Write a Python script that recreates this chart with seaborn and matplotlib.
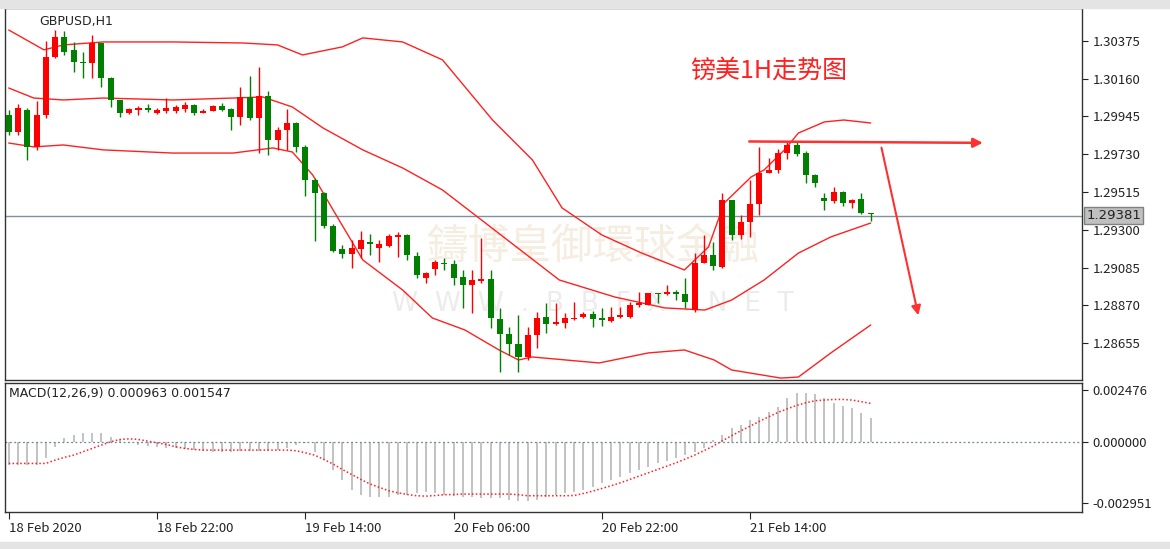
import numpy as np
import pandas as pd
import seaborn as sns
import matplotlib
matplotlib.use("Agg")
import matplotlib.pyplot as plt

###### data (GBPUSD H1, 94 bars from 18 Feb 06:00)

opens = [1.29954, 1.29857, 1.29982, 1.29772, 1.29954, 1.30284, 1.30397, 1.30324, 1.30255, 1.30250,
         1.30363, 1.30164, 1.30039, 1.29965, 1.29982, 1.29994, 1.29965, 1.29976, 1.29976, 1.29988,
         1.30011, 1.29965, 1.29976, 1.30005, 1.29988, 1.29942, 1.30056, 1.29937, 1.30062, 1.29812,
         1.29868, 1.29908, 1.29772, 1.29584, 1.29510, 1.29322, 1.29191, 1.29163, 1.29191, 1.29231,
         1.29197, 1.29208, 1.29260, 1.29271, 1.29151, 1.29026, 1.29077, 1.29113, 1.29106, 1.29032,
         1.28987, 1.29009, 1.29021, 1.28793, 1.28708, 1.28651, 1.28577, 1.28702, 1.28804, 1.28764,
         1.28770, 1.28793, 1.28804, 1.28821, 1.28799, 1.28782, 1.28804, 1.28804, 1.28873, 1.28873,
         1.28941, 1.28935, 1.28947, 1.28935, 1.28844, 1.29111, 1.29157, 1.29089, 1.29470, 1.29271,
         1.29345, 1.29447, 1.29624, 1.29641, 1.29737, 1.29783, 1.29737, 1.29612, 1.29482, 1.29464,
         1.29516, 1.29453, 1.29476, 1.29396]
closes = [1.29857, 1.29994, 1.29772, 1.29954, 1.30284, 1.30397, 1.30312, 1.30255, 1.30250, 1.30363,
          1.30164, 1.30039, 1.29965, 1.29988, 1.29994, 1.29982, 1.29982, 1.29994, 1.29999, 1.30011,
          1.29965, 1.29976, 1.30005, 1.29982, 1.29942, 1.30056, 1.29937, 1.30062, 1.29812, 1.29868,
          1.29908, 1.29772, 1.29584, 1.29510, 1.29322, 1.29180, 1.29163, 1.29197, 1.29242, 1.29220,
          1.29220, 1.29265, 1.29271, 1.29157, 1.29043, 1.29055, 1.29117, 1.29106, 1.29026, 1.28987,
          1.29015, 1.29021, 1.28799, 1.28708, 1.28651, 1.28577, 1.28702, 1.28799, 1.28764, 1.28776,
          1.28799, 1.28799, 1.28821, 1.28793, 1.28787, 1.28804, 1.28816, 1.28873, 1.28884, 1.28941,
          1.28935, 1.28947, 1.28935, 1.28890, 1.29111, 1.29157, 1.29095, 1.29470, 1.29271, 1.29345,
          1.29447, 1.29624, 1.29641, 1.29737, 1.29783, 1.29732, 1.29612, 1.29567, 1.29464, 1.29516,
          1.29453, 1.29470, 1.29396, 1.29390]
highs = [1.29982, 1.30016, 1.29994, 1.30033, 1.30375, 1.30437, 1.30432, 1.30369, 1.30312, 1.30409,
         1.30363, 1.30170, 1.30039, 1.29994, 1.30005, 1.30016, 1.29994, 1.30050, 1.30011, 1.30028,
         1.30016, 1.29988, 1.30011, 1.30022, 1.29994, 1.30113, 1.30176, 1.30227, 1.30090, 1.29885,
         1.29988, 1.29914, 1.29783, 1.29595, 1.29516, 1.29333, 1.29214, 1.29242, 1.29294, 1.29277,
         1.29242, 1.29277, 1.29288, 1.29277, 1.29174, 1.29061, 1.29129, 1.29140, 1.29129, 1.29072,
         1.29072, 1.29254, 1.29072, 1.28856, 1.28747, 1.28816, 1.28747, 1.28833, 1.28884, 1.28884,
         1.28827, 1.28890, 1.28833, 1.28838, 1.28856, 1.28861, 1.28861, 1.28890, 1.28947, 1.28941,
         1.28941, 1.28987, 1.28958, 1.29026, 1.29168, 1.29271, 1.29231, 1.29510, 1.29470, 1.29385,
         1.29584, 1.29772, 1.29709, 1.29760, 1.29806, 1.29806, 1.29749, 1.29618, 1.29510, 1.29544,
         1.29521, 1.29476, 1.29510, 1.29396]
lows = [1.29840, 1.29840, 1.29698, 1.29755, 1.29937, 1.30278, 1.30295, 1.30198, 1.30164, 1.30164,
        1.30113, 1.29999, 1.29942, 1.29959, 1.29954, 1.29971, 1.29959, 1.29965, 1.29965, 1.29971,
        1.29954, 1.29965, 1.29976, 1.29976, 1.29868, 1.29897, 1.29925, 1.29737, 1.29726, 1.29755,
        1.29755, 1.29743, 1.29493, 1.29237, 1.29311, 1.29174, 1.29140, 1.29083, 1.29140, 1.29157,
        1.29117, 1.29203, 1.29146, 1.29129, 1.29026, 1.28998, 1.29043, 1.29072, 1.28987, 1.28856,
        1.28827, 1.28998, 1.28742, 1.28491, 1.28588, 1.28491, 1.28560, 1.28628, 1.28713, 1.28759,
        1.28742, 1.28787, 1.28799, 1.28747, 1.28753, 1.28776, 1.28799, 1.28799, 1.28861, 1.28873,
        1.28884, 1.28930, 1.28901, 1.28856, 1.28833, 1.29111, 1.29072, 1.29083, 1.29242, 1.29248,
        1.29260, 1.29385, 1.29624, 1.29624, 1.29703, 1.29720, 1.29567, 1.29544, 1.29413, 1.29453,
        1.29436, 1.29425, 1.29390, 1.29350]

# Bollinger bands, read at a few bars
upper_bar = [0, 3.8, 5.9, 10.2, 17.7, 25.3, 29, 31.7, 36, 38.2, 42.5, 46.8, 52.2, 56.5, 59.7, 64,
             68.3, 72.9, 75.5, 77.2, 80.1, 81.5, 83.7, 85.2, 88, 90.1, 93]
upper_val = [1.30437, 1.30324, 1.30352, 1.30369, 1.30369, 1.30363, 1.30352, 1.30295, 1.30341, 1.30392,
             1.30369, 1.30267, 1.29925, 1.29698, 1.29425, 1.29271, 1.29168, 1.29072, 1.29203, 1.29453,
             1.29601, 1.29641, 1.29755, 1.29851, 1.29914, 1.29925, 1.29908]
mid_bar = [0, 2.7, 5.9, 10.2, 17.7, 24.2, 27.4, 30.6, 33.9, 38.2, 42.5, 46.8, 50.3, 59.4, 65.4, 70.8,
           75.1, 78, 81.5, 85.2, 88.7, 93]
mid_val = [1.30107, 1.30050, 1.30039, 1.30050, 1.30039, 1.30050, 1.30056, 1.29999, 1.29880, 1.29755,
           1.29652, 1.29527, 1.29385, 1.29015, 1.28918, 1.28856, 1.28844, 1.28901, 1.29015, 1.29168,
           1.29260, 1.29339]
lower_bar = [0, 2.7, 5.9, 10.2, 17.7, 24.2, 28.5, 30.6, 32.8, 35, 38.2, 42.5, 45.7, 49.2, 52.9, 55,
             56.5, 63.7, 69, 72.9, 76.1, 78, 83.3, 85.2, 88.7, 93]
lower_val = [1.29794, 1.29772, 1.29783, 1.29755, 1.29737, 1.29737, 1.29766, 1.29743, 1.29612, 1.29413,
             1.29129, 1.28958, 1.28799, 1.28731, 1.28617, 1.28560, 1.28577, 1.28543, 1.28600, 1.28617,
             1.28560, 1.28503, 1.28457, 1.28463, 1.28600, 1.28759]

macd_hist = [-0.00112, -0.00112, -0.00112, -0.00112, -0.0008, -0.00024, 0.00016, 0.00032, 0.0004, 0.00043,
             0.0004, 0.00024, 0.00011, -0.00005, -0.00016, -0.0002, -0.00024, -0.00028, -0.0003, -0.00035,
             -0.0004, -0.00045, -0.00048, -0.00048, -0.00048, -0.00046, -0.00045, -0.00045, -0.00042, -0.0004,
             -0.0003, -0.00016, -0.00008, -0.0005, -0.00088, -0.00136, -0.00184, -0.00232, -0.00256, -0.00267,
             -0.00264, -0.00267, -0.00256, -0.00256, -0.00248, -0.0024, -0.00248, -0.00256, -0.00262, -0.00264,
             -0.00264, -0.00268, -0.0027, -0.00272, -0.00278, -0.00283, -0.00282, -0.0028, -0.00264, -0.00256,
             -0.00248, -0.0024, -0.00232, -0.00216, -0.002, -0.00184, -0.00168, -0.00152, -0.00136, -0.0012,
             -0.00104, -0.00092, -0.0008, -0.00064, -0.00048, -0.00032, 0.00008, 0.00032, 0.00064, 0.0008,
             0.00104, 0.0012, 0.00144, 0.00168, 0.00208, 0.00232, 0.00235, 0.00229, 0.00208, 0.00184,
             0.00171, 0.0016, 0.00139, 0.00112]
macd_signal = [-0.00104, -0.00104, -0.00104, -0.00104, -0.00104, -0.00088, -0.00075, -0.00064, -0.00048, -0.00032,
               -0.00016, 0.0, 0.00011, 0.00014, 0.00011, 0.00003, -0.00005, -0.00013, -0.00024, -0.00032,
               -0.00037, -0.0004, -0.0004, -0.0004, -0.0004, -0.0004, -0.0004, -0.0004, -0.0004, -0.0004,
               -0.0004, -0.00043, -0.00053, -0.00064, -0.00085, -0.00107, -0.00133, -0.00157, -0.00181, -0.00203,
               -0.00219, -0.00235, -0.00245, -0.00253, -0.00259, -0.00261, -0.00258, -0.00254, -0.00253, -0.00251,
               -0.00251, -0.00251, -0.00251, -0.00251, -0.00251, -0.00254, -0.00259, -0.00259, -0.00259, -0.00259,
               -0.00259, -0.00258, -0.00248, -0.00237, -0.00224, -0.00211, -0.00197, -0.00181, -0.00165, -0.00149,
               -0.00133, -0.00117, -0.00101, -0.00083, -0.00064, -0.00043, -0.00021, 0.00005, 0.00029, 0.00053,
               0.00075, 0.00098, 0.0012, 0.00141, 0.00158, 0.00174, 0.00187, 0.00197, 0.002, 0.00203,
               0.00203, 0.002, 0.00192, 0.00184]

price_ticks = [1.30375, 1.30160, 1.29945, 1.29730, 1.29515, 1.29300, 1.29085, 1.28870, 1.28655]
macd_ticks = [0.002476, 0.0, -0.002951]
date_bars = [0, 16, 32, 48, 64, 80]
date_labels = ['18 Feb 2020', '18 Feb 22:00', '19 Feb 14:00', '20 Feb 06:00', '20 Feb 22:00', '21 Feb 14:00']
last_price = 1.29381

df = pd.DataFrame({'bar': np.arange(len(closes)), 'open': opens, 'close': closes,
                   'high': highs, 'low': lows, 'hist': macd_hist, 'signal': macd_signal})
df['up'] = df['close'] >= df['open']

sns.set_style("white")
plt.rcParams['font.family'] = ['Noto Sans CJK SC', 'DejaVu Sans']

fig = plt.figure(figsize=(11.7, 5.49), dpi=100)
# grey window strips above and below like the terminal
fig.patches.append(plt.Rectangle((0, 0.986), 1, 0.014, transform=fig.transFigure, color='#e4e4e4', zorder=0))
fig.patches.append(plt.Rectangle((0, 0), 1, 0.012, transform=fig.transFigure, color='#e4e4e4', zorder=0))

ax = fig.add_axes([0.0043, 0.3078, 0.9205, 0.6776])
ax2 = fig.add_axes([0.0043, 0.0674, 0.9205, 0.235])

xmax = 115.8
for a in (ax, ax2):
    a.set_xlim(-0.4, xmax)
    for s in a.spines.values():
        s.set_color('#333333')
        s.set_linewidth(1)
    a.yaxis.tick_right()
    a.tick_params(axis='y', length=4, labelsize=9.5, colors='#222222', direction='out', right=True)

# candles
colors = np.where(df['up'], '#ff0000', '#007f00')
ax.vlines(df['bar'], df['low'], df['high'], color=colors, linewidth=1, zorder=3)
body_low = np.minimum(df['open'], df['close'])
body_h = np.maximum(np.abs(df['close'] - df['open']), 0.00004)
ax.bar(df['bar'], body_h, bottom=body_low, width=0.65, color=colors, zorder=4, linewidth=0)

# bollinger bands
sns.lineplot(x=upper_bar, y=upper_val, ax=ax, color='#ff2020', linewidth=1)
sns.lineplot(x=mid_bar, y=mid_val, ax=ax, color='#ff2020', linewidth=1)
sns.lineplot(x=lower_bar, y=lower_val, ax=ax, color='#ff2020', linewidth=1)

ax.axhline(last_price, color='#8090a0', linewidth=1, zorder=1)
ax.set_ylim(1.28446, 1.30562)
ax.set_yticks(price_ticks)
ax.set_yticklabels([f'{t:.5f}' for t in price_ticks])
ax.set_xticks([])
ax.text(1.004, (last_price - 1.28446) / (1.30562 - 1.28446), f'{last_price:.5f}', transform=ax.transAxes,
        va='center', ha='left', fontsize=9.5, color='#222222', family=['DejaVu Sans'],
        bbox=dict(boxstyle='square,pad=0.15', fc='#c0c0c0', ec='#808080'))

# watermark
ax.text(63, 1.29195, '鑄博皇御環球金融', fontsize=30, color='#f6ede1', ha='center', va='center', zorder=0)
ax.text(63, 1.28880, 'W  W  W  .  B  B  F  X  .  N  E  T', fontsize=19, color='#ececec',
        ha='center', va='center', zorder=0, family=['DejaVu Sans'])

# title and annotation arrows
ax.text(73.5, 1.30208, '镑美1H走势图', fontsize=18, color='#ff2020', ha='left', va='center')
ax.text(3.3, 1.30488, 'GBPUSD,H1', fontsize=9, color='#222222', ha='left', va='center', family=['DejaVu Sans'])
ax.annotate('', xy=(105.4, 1.29795), xytext=(79.6, 1.29803),
            arrowprops=dict(arrowstyle='-|>', color='#ff3030', lw=1.8, mutation_scale=14))
ax.annotate('', xy=(98.2, 1.28799), xytext=(94.1, 1.29783),
            arrowprops=dict(arrowstyle='-|>', color='#ff3030', lw=1.5, mutation_scale=14))

# MACD
ax2.vlines(df['bar'], 0, df['hist'], color='#b8b8b8', linewidth=1.2)
sns.lineplot(data=df, x='bar', y='signal', ax=ax2, color='#ff2020', linewidth=1.1, linestyle=(0, (1, 1.5)))
ax2.axhline(0, color='#7080a0', linewidth=0.9, linestyle=(0, (1.5, 2)))
ax2.set_ylim(-0.00337, 0.00282)
ax2.set_yticks(macd_ticks)
ax2.set_yticklabels([f'{t:.6f}' for t in macd_ticks])
ax2.set_xticks(date_bars)
ax2.set_xticklabels(date_labels, ha='left')
ax2.tick_params(axis='x', length=5, labelsize=9.5, colors='#222222', direction='out', bottom=True, pad=2)
ax2.set_xlabel('')
ax2.set_ylabel('')
ax.set_xlabel('')
ax.set_ylabel('')
ax2.text(0.004, 0.92, 'MACD(12,26,9) 0.000963 0.001547', transform=ax2.transAxes, fontsize=9,
         color='#222222', ha='left', va='center', family=['DejaVu Sans'])

fig.savefig('out.png', dpi=100)
